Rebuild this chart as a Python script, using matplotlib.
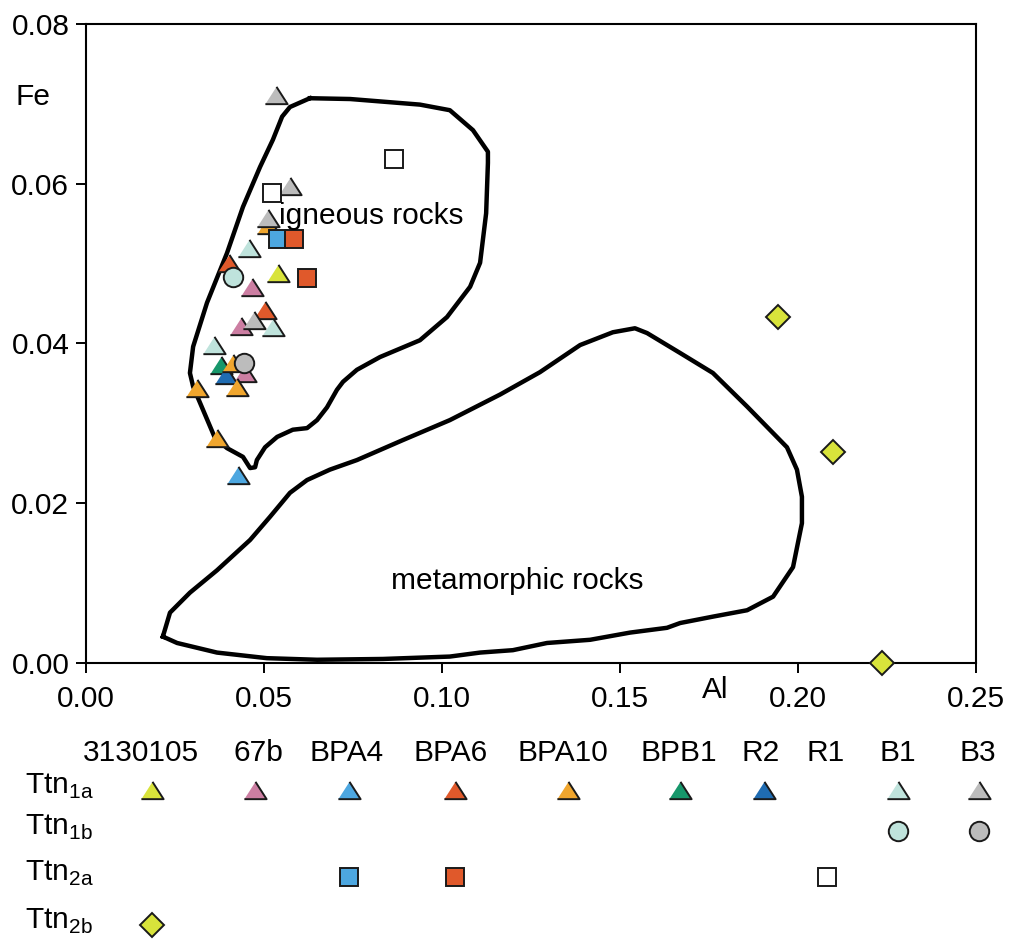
import numpy as np
import matplotlib
matplotlib.use('Agg')
import matplotlib.pyplot as plt

plt.rcParams['font.family'] = ['Liberation Sans', 'DejaVu Sans']
plt.rcParams['mathtext.fontset'] = 'custom'
plt.rcParams['mathtext.rm'] = 'Liberation Sans'

# samples and their colours
samples = ['3130105', '67b', 'BPA4', 'BPA6', 'BPA10', 'BPB1', 'R2', 'R1', 'B1', 'B3']
colors = {'3130105': '#d8e33b', '67b': '#cc7ea2', 'BPA4': '#4da7e0', 'BPA6': '#e0592b',
          'BPA10': '#f0a62e', 'BPB1': '#17976b', 'R2': '#1f6cb2', 'R1': '#ffffff',
          'B1': '#bfe3dc', 'B3': '#bcbcbc'}

# Ttn1a (triangles)
tri_sample = ['67b', '67b', '67b', 'BPA6', 'BPA6', 'BPB1', 'R2',
              'BPA10', 'BPA10', 'BPA10', 'BPA10', 'BPA10',
              'B3', 'B3', 'B3', 'B3', 'B1', 'B1', 'B1', 'BPA4', '3130105']
tri_al = [0.0466, 0.0435, 0.0447, 0.0402, 0.0503, 0.0379, 0.0393,
          0.0511, 0.0413, 0.0424, 0.0312, 0.0368,
          0.0534, 0.0573, 0.0472, 0.0511, 0.0458, 0.0525, 0.0360, 0.0427, 0.0539]
tri_fe = [0.0471, 0.0422, 0.0363, 0.0501, 0.0442, 0.0373, 0.0361,
          0.0548, 0.0376, 0.0346, 0.0344, 0.0282,
          0.0711, 0.0597, 0.0429, 0.0557, 0.0520, 0.0421, 0.0398, 0.0235, 0.0488]

# Ttn1b (circles)
cir_sample = ['B1', 'B3']
cir_al = [0.0413, 0.0444]
cir_fe = [0.0483, 0.0376]

# Ttn2a (squares)
sq_sample = ['BPA4', 'BPA6', 'BPA6', 'R1', 'R1']
sq_al = [0.0539, 0.0584, 0.0621, 0.0865, 0.0522]
sq_fe = [0.0531, 0.0531, 0.0482, 0.0631, 0.0588]

# Ttn2b (diamonds)
dia_sample = ['3130105', '3130105', '3130105']
dia_al = [0.1944, 0.2098, 0.2236]
dia_fe = [0.0433, 0.0264, 0.0000]

# field outlines
ign_al = [0.0629, 0.0742, 0.0854, 0.0938, 0.1022, 0.1087, 0.1129, 0.1129, 0.1124, 0.1107,
          0.1079, 0.1014, 0.0938, 0.0826, 0.0761, 0.0722, 0.0705, 0.0677, 0.0649, 0.0621,
          0.0581, 0.0537, 0.0503, 0.0480, 0.0475, 0.0461, 0.0441, 0.0396, 0.0362, 0.0301,
          0.0292, 0.0301, 0.0340, 0.0396, 0.0441, 0.0489, 0.0525, 0.0551, 0.0573, 0.0629]
ign_fe = [0.0707, 0.0706, 0.0702, 0.0699, 0.0692, 0.0667, 0.0640, 0.0626, 0.0563, 0.0501,
          0.0471, 0.0433, 0.0404, 0.0383, 0.0367, 0.0352, 0.0342, 0.0320, 0.0304, 0.0294,
          0.0292, 0.0283, 0.0270, 0.0254, 0.0245, 0.0244, 0.0258, 0.0269, 0.0282, 0.0346,
          0.0363, 0.0396, 0.0451, 0.0513, 0.0571, 0.0621, 0.0655, 0.0684, 0.0696, 0.0707]
met_al = [0.0216, 0.0236, 0.0292, 0.0368, 0.0461, 0.0517, 0.0573, 0.0621, 0.0685, 0.0761,
          0.0890, 0.1022, 0.1163, 0.1275, 0.1388, 0.1480, 0.1542, 0.1576, 0.1669, 0.1761,
          0.1857, 0.1969, 0.1997, 0.2011, 0.2011, 0.1986, 0.1930, 0.1857, 0.1761, 0.1669,
          0.1632, 0.1528, 0.1416, 0.1295, 0.1199, 0.1107, 0.1022, 0.0834, 0.0649, 0.0508,
          0.0368, 0.0256, 0.0216]
met_fe = [0.0033, 0.0063, 0.0088, 0.0116, 0.0154, 0.0183, 0.0213, 0.0229, 0.0242, 0.0254,
          0.0279, 0.0304, 0.0336, 0.0364, 0.0398, 0.0414, 0.0419, 0.0413, 0.0388, 0.0363,
          0.0321, 0.0270, 0.0242, 0.0208, 0.0175, 0.0120, 0.0083, 0.0066, 0.0058, 0.0050,
          0.0044, 0.0038, 0.0029, 0.0025, 0.0016, 0.0013, 0.0008, 0.0005, 0.0004, 0.0006,
          0.0013, 0.0025, 0.0033]

tri_marker = [(-1, -0.78), (1, -0.78), (0, 0.78)]
FS = 21.5
TRI, CIR, SQ, DIA = 16, 14, 13, 12.5

fig = plt.figure(figsize=(10.15, 9.46), dpi=100)
ax = fig.add_axes([0.0847, 0.2992, 0.8769, 0.6755])

ax.plot(ign_al, ign_fe, color='black', lw=3.2, solid_joinstyle='round', zorder=2)
ax.plot(met_al, met_fe, color='black', lw=3.2, solid_joinstyle='round', zorder=2)

mk = dict(markeredgecolor='#1a1a1a', markeredgewidth=1.4, linestyle='none', clip_on=False)
for s, a, f in zip(tri_sample, tri_al, tri_fe):
    ax.plot(a, f, marker=tri_marker, ms=TRI, markerfacecolor=colors[s], zorder=3, **mk)
for s, a, f in zip(cir_sample, cir_al, cir_fe):
    ax.plot(a, f, marker='o', ms=CIR, markerfacecolor=colors[s], zorder=3, **mk)
for s, a, f in zip(sq_sample, sq_al, sq_fe):
    ax.plot(a, f, marker='s', ms=SQ, markerfacecolor=colors[s], zorder=3, **mk)
for s, a, f in zip(dia_sample, dia_al, dia_fe):
    ax.plot(a, f, marker='D', ms=DIA, markerfacecolor=colors[s], zorder=4, **mk)

ax.text(0.0802, 0.0560, 'igneous rocks', fontsize=FS, ha='center', va='center')
ax.text(0.1211, 0.0103, 'metamorphic rocks', fontsize=FS, ha='center', va='center')

ax.set_xlim(0, 0.25)
ax.set_ylim(0, 0.08)
ax.set_xticks(np.arange(0, 0.251, 0.05))
ax.set_yticks(np.arange(0, 0.081, 0.02))
ax.xaxis.set_major_formatter(plt.FormatStrFormatter('%.2f'))
ax.yaxis.set_major_formatter(plt.FormatStrFormatter('%.2f'))
ax.tick_params(direction='out', length=7, width=1.4, labelsize=FS)
ax.tick_params(axis='x', pad=9)
ax.tick_params(axis='y', pad=5)
for sp in ax.spines.values():
    sp.set_linewidth(1.5)

ax.text(-0.06, 0.885, 'Fe', transform=ax.transAxes, fontsize=FS, ha='center', va='center')
ax.text(0.1767, -0.0034, 'Al', fontsize=FS, ha='center', va='center', clip_on=False)

# legend table below the plot (pixel layout)
lg = fig.add_axes([0, 0, 1, 1])
lg.set_xlim(0, 1015)
lg.set_ylim(946, 0)
lg.axis('off')
lg.patch.set_alpha(0)

head_x = [141, 258, 347, 451, 563, 679, 761, 826, 898, 978]
mark_x = [152, 255, 349, 455, 568, 680, 764, 827, 898, 979]
row_y = [790, 831, 877, 925]
row_lab = [r'Ttn$_{\mathregular{1a}}$', r'Ttn$_{\mathregular{1b}}$',
           r'Ttn$_{\mathregular{2a}}$', r'Ttn$_{\mathregular{2b}}$']

for s, hx in zip(samples, head_x):
    lg.text(hx, 753, s, fontsize=FS, ha='center', va='center')
for lab, ry in zip(row_lab, row_y):
    lg.text(25, ry + 4, lab, fontsize=FS, ha='left', va='baseline')

col = dict(zip(samples, mark_x))
leg_rows = [
    (set(tri_sample), tri_marker, TRI),
    (set(cir_sample), 'o', CIR),
    (set(sq_sample), 's', SQ),
    (set(dia_sample), 'D', DIA),
]
mk2 = dict(markeredgecolor='#1a1a1a', markeredgewidth=1.4, linestyle='none')
for (group, m, size), ry in zip(leg_rows, row_y):
    for s in samples:
        if s in group:
            lg.plot(col[s], ry, marker=m, ms=size, markerfacecolor=colors[s], **mk2)

fig.savefig('out.png', dpi=100)
